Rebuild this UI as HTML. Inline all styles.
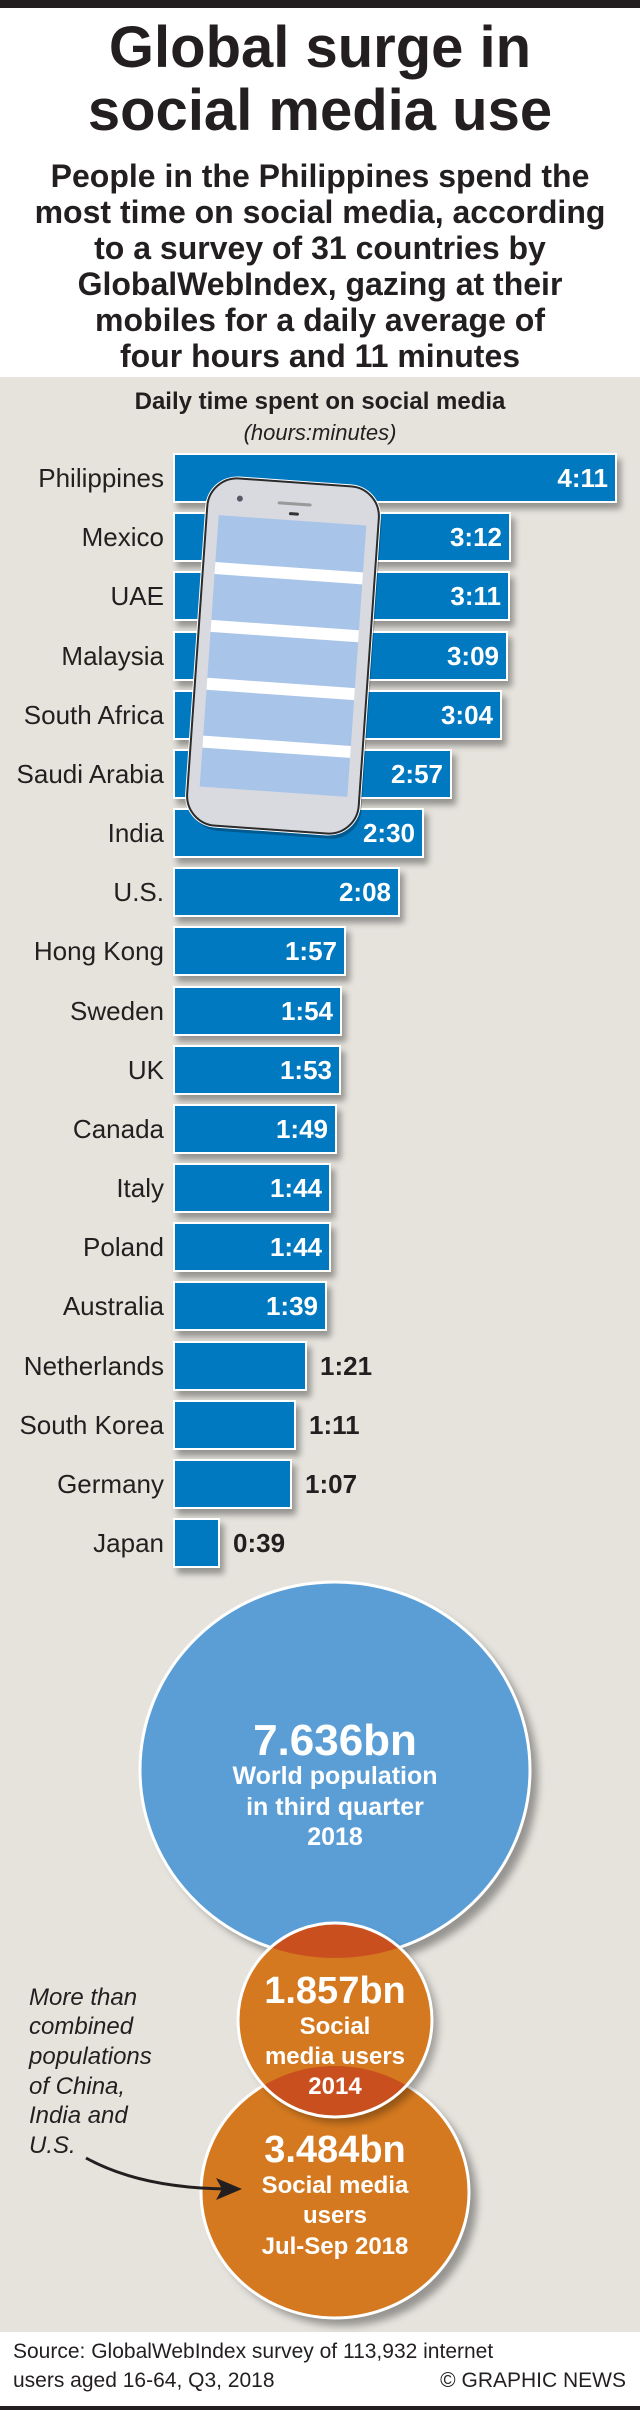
<!DOCTYPE html>
<html><head><meta charset="utf-8"><style>
*{margin:0;padding:0;box-sizing:border-box}
body{width:640px;height:2410px;position:relative;background:#fff;font-family:"Liberation Sans",Arial,sans-serif;color:#231f20;overflow:hidden}
.abs{position:absolute}
.t{position:absolute;left:0;width:640px;text-align:center;font-weight:bold;white-space:nowrap}
.lab{position:absolute;right:476px;font-size:26px;white-space:nowrap;line-height:50px}
.bar{position:absolute;left:173px;height:50px;background:#0079c1;border:2px solid #fff;box-shadow:4px 6px 6px rgba(0,0,0,0.35)}
.v{position:absolute;font-size:26px;font-weight:bold;line-height:50px;white-space:nowrap}
.in{color:#fff}
</style></head><body>
<div class="abs" style="left:0;top:0;width:640px;height:8px;background:#231f20"></div>
<div class="t" style="top:13px;font-size:58px;line-height:70px">Global surge in</div>
<div class="t" style="top:76px;font-size:58px;line-height:70px">social media use</div>
<div class="t" style="top:158px;font-size:32px;line-height:36px">People in the Philippines spend the<br>most time on social media, according<br>to a survey of 31 countries by<br>GlobalWebIndex, gazing at their<br>mobiles for a daily average of<br>four hours and 11 minutes</div>
<div class="abs" style="left:0;top:377px;width:640px;height:1955px;background:#e6e3dd"></div>
<div class="t" style="top:387px;font-size:24px;line-height:30px">Daily time spent on social media</div>
<div class="t" style="top:419px;font-size:22px;line-height:28px;font-weight:normal;font-style:italic">(hours:minutes)</div>

<div id="bars"></div>
<script>
var d=[["Philippines","4:11",617,1],["Mexico","3:12",511,1],["UAE","3:11",510,1],["Malaysia","3:09",508,1],["South Africa","3:04",502,1],["Saudi Arabia","2:57",452,1],["India","2:30",424,1],["U.S.","2:08",400,1],["Hong Kong","1:57",346,1],["Sweden","1:54",342,1],["UK","1:53",341,1],["Canada","1:49",337,1],["Italy","1:44",331,1],["Poland","1:44",331,1],["Australia","1:39",327,1],["Netherlands","1:21",307,0],["South Korea","1:11",296,0],["Germany","1:07",292,0],["Japan","0:39",220,0]];
var h="";
for(var i=0;i<d.length;i++){var y=Math.round(453+59.17*i);var r=d[i][2];
h+='<div class="lab" style="top:'+y+'px">'+d[i][0]+'</div>';
h+='<div class="bar" style="top:'+y+'px;width:'+(r-173)+'px"></div>';
if(d[i][3]) h+='<div class="v in" style="top:'+y+'px;right:'+(640-r+9)+'px">'+d[i][1]+'</div>';
else h+='<div class="v" style="top:'+y+'px;left:'+(r+13)+'px">'+d[i][1]+'</div>';}
document.getElementById("bars").innerHTML=h;
</script>

<svg class="abs" style="left:197px;top:482px" width="172" height="348" viewBox="0 0 172 348" overflow="visible">
<g transform="rotate(4 86 174)">
<rect x="3" y="5" width="172" height="348" rx="30" fill="rgba(0,0,0,0.25)"/>
<rect x="-2" y="-2" width="176" height="352" rx="32" fill="#fff"/>
<rect x="0" y="0" width="172" height="348" rx="30" fill="#d9dadf" stroke="#2b2b2b" stroke-width="2"/>
<rect x="12" y="38" width="148" height="272" fill="#a9c4e9"/>
<rect x="12" y="85" width="148" height="12" fill="#fff"/>
<rect x="12" y="143" width="148" height="12" fill="#fff"/>
<rect x="12" y="201" width="148" height="12" fill="#fff"/>
<rect x="12" y="259" width="148" height="12" fill="#fff"/>
<circle cx="32" cy="20" r="3" fill="#555a66"/>
<rect x="70" y="20" width="34" height="3" rx="1.5" fill="#999"/>
<rect x="82" y="30" width="10" height="3" rx="1.5" fill="#333"/>
</g></svg>

<svg class="abs" style="left:0;top:0" width="640" height="2410">
<defs>
<filter id="sh" x="-20%" y="-20%" width="140%" height="140%"><feGaussianBlur stdDeviation="4"/></filter>
<clipPath id="cs"><ellipse cx="335" cy="2020" rx="97" ry="97"/></clipPath>
</defs>
<ellipse cx="343" cy="1778" rx="195" ry="188" fill="rgba(0,0,0,0.35)" filter="url(#sh)"/>
<ellipse cx="335" cy="1770" rx="195" ry="188" fill="#5b9ed6" stroke="#fff" stroke-width="3"/>
<ellipse cx="343" cy="2200" rx="134" ry="126" fill="rgba(0,0,0,0.35)" filter="url(#sh)"/>
<ellipse cx="335" cy="2192" rx="134" ry="126" fill="#d4791f" stroke="#fff" stroke-width="3"/>
<ellipse cx="341" cy="2026" rx="97" ry="97" fill="rgba(0,0,0,0.3)" filter="url(#sh)"/>
<ellipse cx="335" cy="2020" rx="97" ry="97" fill="#d4791f"/>
<g clip-path="url(#cs)">
<ellipse cx="335" cy="1770" rx="195" ry="188" fill="#c94f1e"/>
<ellipse cx="335" cy="2192" rx="134" ry="126" fill="#c94f1e"/>
</g>
<ellipse cx="335" cy="2020" rx="97" ry="97" fill="none" stroke="#fff" stroke-width="3"/>
<g fill="#fff" font-family="Liberation Sans, Arial, sans-serif" font-weight="bold" text-anchor="middle">
<text x="335" y="1755" font-size="44">7.636bn</text>
<text x="335" y="1784" font-size="25">World population</text>
<text x="335" y="1815" font-size="25">in third quarter</text>
<text x="335" y="1845" font-size="25">2018</text>
<text x="335" y="2003" font-size="38">1.857bn</text>
<text x="335" y="2034" font-size="24">Social</text>
<text x="335" y="2064" font-size="24">media users</text>
<text x="335" y="2094" font-size="24">2014</text>
<text x="335" y="2162" font-size="38">3.484bn</text>
<text x="335" y="2193" font-size="24">Social media</text>
<text x="335" y="2223" font-size="24">users</text>
<text x="335" y="2254" font-size="24">Jul-Sep 2018</text>
</g>
<g fill="#231f20" font-family="Liberation Sans, Arial, sans-serif" font-style="italic" font-size="24">
<text x="29" y="2005">More than</text>
<text x="29" y="2034">combined</text>
<text x="29" y="2064">populations</text>
<text x="29" y="2094">of China,</text>
<text x="29" y="2123">India and</text>
<text x="29" y="2153">U.S.</text>
</g>
<path d="M86 2158 Q140 2188 228 2189" fill="none" stroke="#231f20" stroke-width="3"/>
<path d="M242 2189 L216 2178 L222 2189 L216 2200 Z" fill="#231f20"/>
</svg>

<div class="abs" style="left:13px;top:2337px;font-size:21px;line-height:29px;white-space:nowrap">Source: GlobalWebIndex survey of 113,932 internet<br>users aged 16-64, Q3, 2018</div>
<div class="abs" style="right:14px;top:2366px;font-size:21px;line-height:29px;white-space:nowrap">© GRAPHIC NEWS</div>
<div class="abs" style="left:0;top:2406px;width:640px;height:4px;background:#231f20"></div>
</body></html>
